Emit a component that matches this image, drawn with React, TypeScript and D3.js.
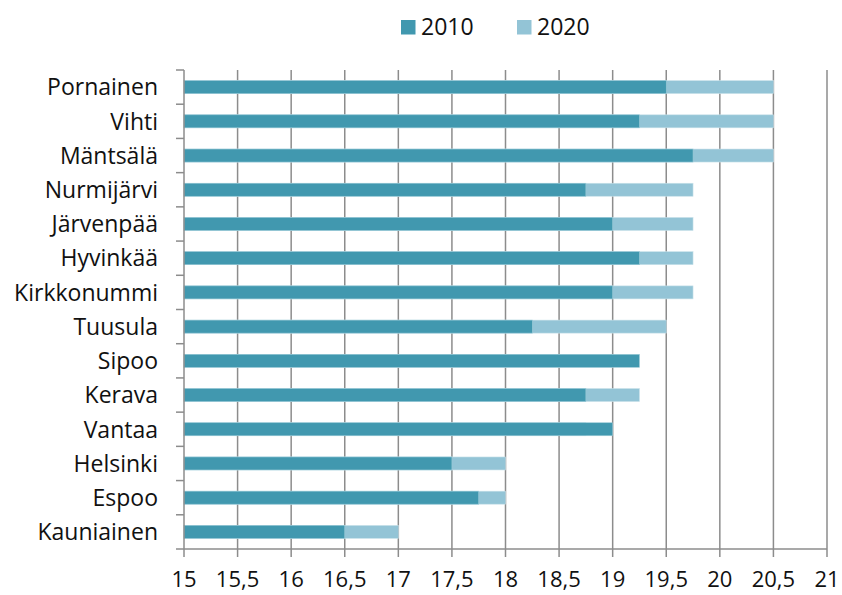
import React from 'react'
import * as d3 from 'd3'

const municipalities = ['Pornainen', 'Vihti', 'Mäntsälä', 'Nurmijärvi', 'Järvenpää', 'Hyvinkää', 'Kirkkonummi',
  'Tuusula', 'Sipoo', 'Kerava', 'Vantaa', 'Helsinki', 'Espoo', 'Kauniainen']
const values2010 = [19.5, 19.25, 19.75, 18.75, 19, 19.25, 19, 18.25, 19.25, 18.75, 19, 17.5, 17.75, 16.5]
const values2020 = [20.5, 20.5, 20.5, 19.75, 19.75, 19.75, 19.75, 19.5, 19, 19.25, 18.75, 18, 18, 17]
const seriesNames = ['2010', '2020']
const xTicks = [15, 15.5, 16, 16.5, 17, 17.5, 18, 18.5, 19, 19.5, 20, 20.5, 21]

const colors = ['#4198af', '#93c4d6']
const font = '"Open Sans", sans-serif'
const fs = 23

export default function App() {
  const width = 842, height = 595
  const left = 184, right = 827, top = 70, bottom = 549

  const x = d3.scaleLinear().domain([15, 21]).range([left, right])
  const y = d3.scaleBand().domain(municipalities).range([top, bottom]).paddingInner(0.62).paddingOuter(0.31)
  const step = y.step()
  const fmt = (v: number) => String(v).replace('.', ',')

  return (
    <svg width={width} height={height} style={{ position: 'absolute', left: 0, top: 0 }}>
      <rect width={width} height={height} fill="#fff" />
      {/* vertical grid */}
      {xTicks.slice(1).map(t => (
        <line key={'g' + t} x1={x(t)} x2={x(t)} y1={top} y2={bottom + 8} stroke="#8c8c8c" strokeWidth={1.5} />
      ))}
      {/* bars: 2020 behind, 2010 on top */}
      {municipalities.map((m, i) => (
        <rect key={'b20' + m} x={x(15)} y={y(m)} width={x(values2020[i]) - x(15)} height={y.bandwidth()}
          fill={colors[1]} stroke="#c9e2ea" strokeWidth={0.6} />
      ))}
      {municipalities.map((m, i) => (
        <rect key={'b10' + m} x={x(15)} y={y(m)} width={x(values2010[i]) - x(15)} height={y.bandwidth()}
          fill={colors[0]} stroke="#9ccbd8" strokeWidth={0.6} />
      ))}
      {/* y axis */}
      <line x1={left} x2={left} y1={top} y2={bottom} stroke="#8c8c8c" strokeWidth={1.5} />
      {d3.range(municipalities.length + 1).map(i => (
        <line key={'yt' + i} x1={left - 8} x2={left} y1={top + i * step} y2={top + i * step} stroke="#8c8c8c" strokeWidth={1.5} />
      ))}
      {municipalities.map(m => (
        <text key={'l' + m} x={158} y={(y(m) as number) + y.bandwidth() / 2} dy="0.36em" textAnchor="end"
          fontFamily={font} fontSize={fs} fill="#111">{m}</text>
      ))}
      {/* x axis */}
      <line x1={left} x2={right} y1={bottom} y2={bottom} stroke="#8c8c8c" strokeWidth={1.5} />
      <line x1={left} x2={left} y1={bottom} y2={bottom + 8} stroke="#8c8c8c" strokeWidth={1.5} />
      {xTicks.map(t => (
        <text key={'xt' + t} x={x(t)} y={587} textAnchor="middle" fontFamily={font} fontSize={22} fill="#111">{fmt(t)}</text>
      ))}
      {/* legend */}
      {seriesNames.map((s, i) => (
        <g key={'lg' + s} transform={`translate(${401 + i * 116},20)`}>
          <rect width={14.5} height={14.5} fill={colors[i]} />
          <text x={20} y={14.8} fontFamily={font} fontSize={fs} fill="#111">{s}</text>
        </g>
      ))}
    </svg>
  )
}
